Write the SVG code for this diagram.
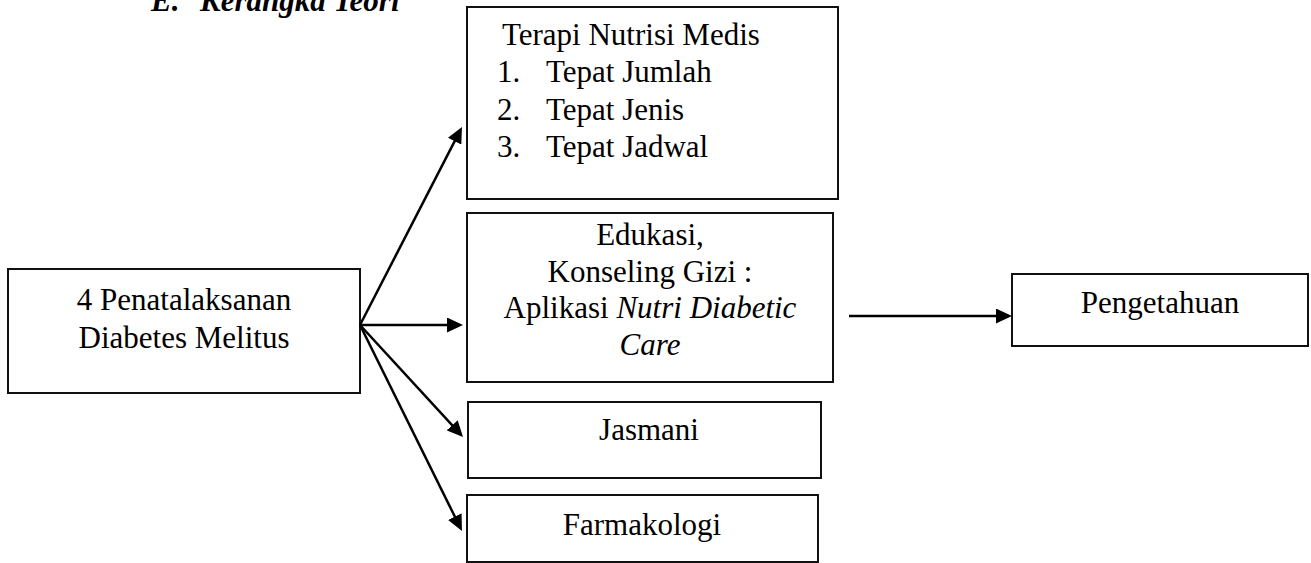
<svg xmlns="http://www.w3.org/2000/svg" width="1311" height="563" viewBox="0 0 1311 563">
  <style>
    .box { fill: #ffffff; stroke: #111111; stroke-width: 2; }
    .t { font-family: "Liberation Serif", "Times New Roman", serif; font-size: 31px; fill: #000000; }
    .c { text-anchor: middle; }
    .title { font-family: "Liberation Serif", "Times New Roman", serif; font-size: 31px; font-weight: bold; font-style: italic; fill: #000000; }
    .conn { stroke: #000000; stroke-width: 2.5; fill: none; marker-end: url(#arrow); }
  </style>
  <defs>
    <marker id="arrow" markerUnits="userSpaceOnUse" markerWidth="16" markerHeight="15" refX="8" refY="7.5" orient="auto">
      <path d="M0,0 L16,7.5 L0,15 z" fill="#000000"/>
    </marker>
  </defs>
  <rect width="1311" height="563" fill="#ffffff"/>

  <g id="title">
    <text class="title" x="151" y="11">E.</text>
    <text class="title" x="200" y="11">Kerangka Teori</text>
  </g>

  <g id="node-penatalaksanan">
    <rect class="box" x="8" y="269" width="352" height="124"/>
    <text class="t c" x="184" y="310">4 Penatalaksanan</text>
    <text class="t c" x="184" y="348">Diabetes Melitus</text>
  </g>

  <g id="node-terapi">
    <rect class="box" x="467" y="7" width="371" height="192"/>
    <text class="t" x="502" y="45">Terapi Nutrisi Medis</text>
    <text class="t" x="497" y="82">1.</text>
    <text class="t" x="546" y="82">Tepat Jumlah</text>
    <text class="t" x="497" y="120">2.</text>
    <text class="t" x="546" y="120">Tepat Jenis</text>
    <text class="t" x="497" y="157">3.</text>
    <text class="t" x="546" y="157">Tepat Jadwal</text>
  </g>

  <g id="node-edukasi">
    <rect class="box" x="467" y="213" width="366" height="169"/>
    <text class="t c" x="650" y="245">Edukasi,</text>
    <text class="t c" x="650" y="282">Konseling Gizi :</text>
    <text class="t c" x="650" y="318">Aplikasi <tspan font-style="italic">Nutri Diabetic</tspan></text>
    <text class="t c" x="650" y="355" font-style="italic">Care</text>
  </g>

  <g id="node-jasmani">
    <rect class="box" x="468" y="402" width="353" height="76"/>
    <text class="t c" x="649" y="440">Jasmani</text>
  </g>

  <g id="node-farmakologi">
    <rect class="box" x="467" y="495" width="351" height="67"/>
    <text class="t c" x="642" y="535">Farmakologi</text>
  </g>

  <g id="node-pengetahuan">
    <rect class="box" x="1012" y="274" width="296" height="72"/>
    <text class="t c" x="1160" y="313">Pengetahuan</text>
  </g>

  <g id="connectors">
    <line class="conn" x1="360" y1="325" x2="458.3" y2="134.1"/>
    <line class="conn" x1="360" y1="325" x2="455" y2="325"/>
    <line class="conn" x1="360" y1="325" x2="457.6" y2="431.1"/>
    <line class="conn" x1="360" y1="325" x2="458.4" y2="523.8"/>
    <line class="conn" x1="849" y1="316" x2="1004" y2="316"/>
  </g>
</svg>
